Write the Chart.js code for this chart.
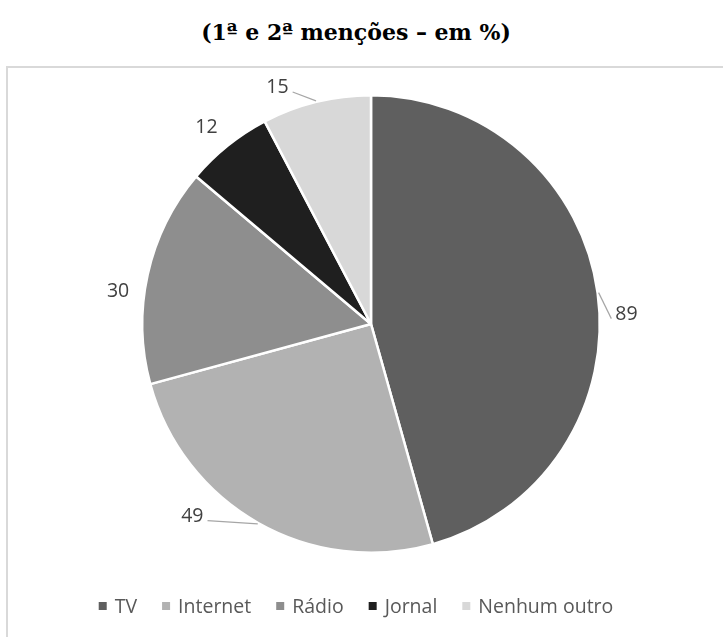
<!DOCTYPE html>
<html>
<head>
<meta charset="utf-8">
<script src="https://cdn.jsdelivr.net/npm/chart.js@4/dist/chart.umd.min.js"></script>
<style>
  html, body { margin: 0; padding: 0; background: #ffffff; }
  body { width: 723px; height: 637px; position: relative; overflow: hidden; }
  #title {
    position: absolute; left: 0; top: 19px; width: 712px;
    text-align: center; font: bold 22px "DejaVu Serif", serif; color: #000;
  }
  #frame {
    position: absolute; left: 6px; top: 66px; width: 740px; height: 620px;
    border: 2px solid #d9d9d9; box-sizing: border-box;
  }
  #chart { position: absolute; left: 0; top: 0; }
</style>
</head>
<body>
<div id="title">(1ª e 2ª menções – em %)</div>
<div id="frame"></div>
<canvas id="chart" width="723" height="637"></canvas>
<script>
// Meios de informação citados
const categories = ['TV', 'Internet', 'Rádio', 'Jornal', 'Nenhum outro'];
const values = [89, 49, 30, 12, 15];
const sliceColors = ['#5f5f5f', '#b2b2b2', '#8e8e8e', '#1f1f1f', '#d8d8d8'];

// Label placement around the pie: angular nudge (degrees, clockwise),
// distance beyond the rim (px), and whether a leader line is drawn.
const labelNudge = [5.3, 13.6, -4.8, -1.0, -7.6];
const labelGap = [27, 32.5, 26.5, 28.5, 27];
const labelLeader = [true, true, false, false, true];

const FONT = '"Open Sans", sans-serif';
const FONT_SIZE = 19.5;

const outsideLabels = {
  id: 'outsideLabels',
  afterDatasetsDraw(chart) {
    const ctx = chart.ctx;
    const meta = chart.getDatasetMeta(0);
    ctx.save();
    ctx.font = FONT_SIZE + 'px ' + FONT;
    meta.data.forEach((arc, i) => {
      const p = arc.getProps(['x', 'y', 'startAngle', 'endAngle', 'outerRadius'], true);
      const mid = (p.startAngle + p.endAngle) / 2;
      const ang = mid + labelNudge[i] * Math.PI / 180;
      const r = p.outerRadius + labelGap[i];
      const cx = p.x + r * Math.cos(ang);
      const cy = p.y + r * Math.sin(ang);
      const txt = String(chart.data.datasets[0].data[i]);
      const w = ctx.measureText(txt).width;
      const capH = FONT_SIZE * 0.714;
      if (labelLeader[i]) {
        const ax = p.x + (p.outerRadius + 1) * Math.cos(mid);
        const ay = p.y + (p.outerRadius + 1) * Math.sin(mid);
        const ex = ax > cx ? cx + w / 2 + 4 : cx - w / 2 - 4;
        const ey = cy + 6;
        ctx.strokeStyle = '#a6a6a6';
        ctx.lineWidth = 1.2;
        ctx.beginPath();
        ctx.moveTo(ax, ay);
        ctx.lineTo(ex, ey);
        ctx.stroke();
      }
      ctx.fillStyle = '#404040';
      ctx.textAlign = 'center';
      ctx.textBaseline = 'alphabetic';
      ctx.fillText(txt, cx, cy + capH / 2);
    });
    ctx.restore();
  }
};

// Legend row along the bottom of the frame
const bottomLegend = {
  id: 'bottomLegend',
  afterDraw(chart) {
    const ctx = chart.ctx;
    const labels = chart.data.labels;
    const colors = chart.data.datasets[0].backgroundColor;
    const box = 8, gapIn = 8, gapOut = 25;
    const centerX = 356, baseY = 613;
    ctx.save();
    ctx.font = FONT_SIZE + 'px ' + FONT;
    const widths = labels.map(t => ctx.measureText(t).width);
    let total = 0;
    widths.forEach((w, i) => { total += box + gapIn + w + (i < widths.length - 1 ? gapOut : 0); });
    let x = centerX - total / 2;
    labels.forEach((t, i) => {
      ctx.fillStyle = colors[i];
      ctx.fillRect(x, baseY - 11, box, box);
      x += box + gapIn;
      ctx.fillStyle = '#595959';
      ctx.textAlign = 'left';
      ctx.textBaseline = 'alphabetic';
      ctx.fillText(t, x, baseY);
      x += widths[i] + gapOut;
    });
    ctx.restore();
  }
};

new Chart(document.getElementById('chart'), {
  type: 'pie',
  data: {
    labels: categories,
    datasets: [{
      data: values,
      backgroundColor: sliceColors,
      borderColor: '#ffffff',
      borderWidth: 2.5
    }]
  },
  options: {
    responsive: false,
    devicePixelRatio: 1,
    animation: false,
    layout: { padding: { left: 141, right: 122, top: 94, bottom: 83 } },
    plugins: {
      legend: { display: false },
      tooltip: { enabled: false },
      title: { display: false }
    }
  },
  plugins: [outsideLabels, bottomLegend]
});
</script>
</body>
</html>
